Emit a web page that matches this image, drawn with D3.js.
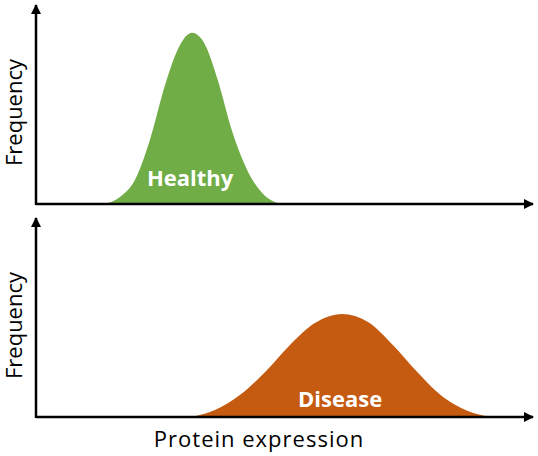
<!DOCTYPE html>
<html><head><meta charset="utf-8">
<script src="https://cdn.jsdelivr.net/npm/d3@7"></script>
<style>body{margin:0;background:#fff}</style>
</head><body>
<div id="chart"></div>
<script>
// curve outlines (x: 0-100 expression, y: 0-1 frequency)
var healthyX = [13.9, 16.9, 19.9, 22.9, 26.0, 29.0, 31.4, 33.8, 36.6, 39.4, 42.7, 45.5, 49.1]
var healthyY = [0, 0.035, 0.12, 0.32, 0.60, 0.80, 0.86, 0.81, 0.62, 0.37, 0.16, 0.055, 0]
var diseaseX = [31.4, 36.0, 41.0, 46.1, 51.1, 56.1, 61.6, 66.8, 71.8, 76.9, 81.9, 86.9, 91.3]
var diseaseY = [0, 0.035, 0.11, 0.226, 0.362, 0.472, 0.518, 0.477, 0.362, 0.221, 0.10, 0.03, 0]
var labels = ["Healthy", "Disease"]
var xTitle = "Protein expression"
var yTitle = "Frequency"

var width = 538, height = 456
var svg = d3.select("#chart").append("svg")
    .attr("width", width).attr("height", height)

svg.append("defs").append("marker")
    .attr("id", "arrow").attr("viewBox", "0 0 10 10")
    .attr("refX", 9).attr("refY", 5)
    .attr("markerWidth", 4).attr("markerHeight", 4)
    .attr("orient", "auto")
    .append("path").attr("d", "M0,0L10,5L0,10Z").attr("fill", "#000")

var x = d3.scaleLinear().domain([0, 100]).range([36, 533])

var panels = [
    { xs: healthyX, ys: healthyY, color: "#70ad47", label: labels[0], range: [204, 5], lx: 31.0, ly: 0.09 },
    { xs: diseaseX, ys: diseaseY, color: "#c55a11", label: labels[1], range: [417, 218], lx: 61.2, ly: 0.05 }
]

panels.forEach(function (p) {
    var y = d3.scaleLinear().domain([0, 1]).range(p.range)
    var pts = p.xs.map(function (d, i) { return [d, p.ys[i]] })
    var area = d3.area()
        .x(function (d) { return x(d[0]) })
        .y0(y(0))
        .y1(function (d) { return y(d[1]) })
        .curve(d3.curveMonotoneX)
    svg.append("path").datum(pts).attr("d", area).attr("fill", p.color)

    // axes
    svg.append("line").attr("x1", x(0)).attr("x2", x(100))
        .attr("y1", y(0)).attr("y2", y(0))
        .attr("stroke", "#000").attr("stroke-width", 2.5).attr("marker-end", "url(#arrow)")
    svg.append("line").attr("x1", x(0)).attr("x2", x(0))
        .attr("y1", y(0) + 1).attr("y2", y(1))
        .attr("stroke", "#000").attr("stroke-width", 2.5).attr("marker-end", "url(#arrow)")

    svg.append("text").attr("x", x(p.lx)).attr("y", y(p.ly))
        .attr("text-anchor", "middle").attr("fill", "#fff")
        .style("font", "bold 22px 'Open Sans', sans-serif").text(p.label)

    svg.append("text")
        .attr("transform", "translate(22," + (y(0.5) + 8) + ")rotate(-90)")
        .attr("text-anchor", "middle")
        .style("font", "22px 'Open Sans', sans-serif").text(yTitle)
})

svg.append("text").attr("x", 259).attr("y", 447)
    .attr("text-anchor", "middle")
    .style("font", "22px 'Open Sans', sans-serif").style("letter-spacing", "1px").text(xTitle)
</script>
</body></html>
